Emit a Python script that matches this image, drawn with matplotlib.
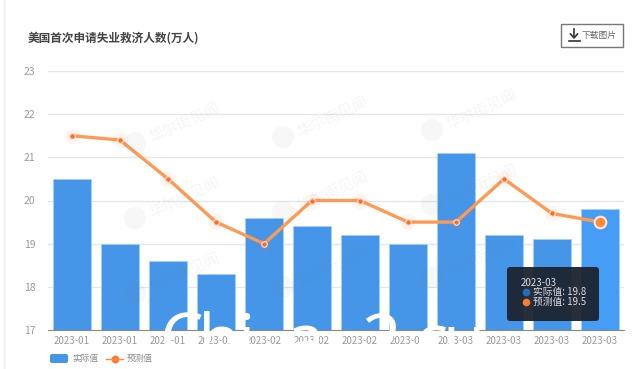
import matplotlib
matplotlib.use('Agg')
import matplotlib.pyplot as plt
from matplotlib.patches import FancyBboxPatch, Rectangle, Circle
import numpy as np

plt.rcParams['font.family'] = ['Noto Sans CJK SC', 'DejaVu Sans']

months = ['2023-01', '2023-01', '2023-01', '2023-01', '2023-02', '2023-02',
          '2023-02', '2023-02', '2023-03', '2023-03', '2023-03', '2023-03']
actual = [20.5, 19.0, 18.6, 18.3, 19.6, 19.4, 19.2, 19.0, 21.1, 19.2, 19.1, 19.8]
forecast = [21.5, 21.4, 20.5, 19.5, 19.0, 20.0, 20.0, 19.5, 19.5, 20.5, 19.7, 19.5]
yticks = [17, 18, 19, 20, 21, 22, 23]

W, H = 640, 369
fig = plt.figure(figsize=(W / 100, H / 100), dpi=100)
ax = fig.add_axes([48 / W, 1 - 330 / H, 576 / W, 259 / H])

x = np.arange(len(months))
bar_colors = ['#4596e8'] * 11 + ['#459df5']
ax.bar(x, actual, 0.8, color=bar_colors, edgecolor='#a9d0f5', linewidth=0.5, zorder=2)
ax.plot(x, forecast, color='#ff9a54', lw=2.4, zorder=3)
ax.scatter(x, forecast, s=130, color='#ff7a30', alpha=0.08, linewidths=0, zorder=3)
ax.scatter(x[:-1], forecast[:-1], s=16, color='#ff6b2b', edgecolor='#ffe3d3', linewidth=0.8, zorder=4)
ax.scatter(x[-1:], forecast[-1:], s=70, color='#ff8a35', edgecolor='#ffe9da', linewidth=1.5, zorder=4)

ax.set_xlim(-0.5, 11.5)
ax.set_ylim(17, 23)
ax.set_yticks(yticks)
ax.set_xticks(x)
ax.set_xticklabels(months)
ax.tick_params(axis='y', length=0, labelsize=7.5, labelcolor='#999999', pad=9)
ax.tick_params(axis='x', length=0, labelsize=7, labelcolor='#999999', pad=4)
ax.grid(axis='y', color='#e6e6e6', lw=1, zorder=1)
ax.set_axisbelow(True)
for s in ['top', 'right', 'left']:
    ax.spines[s].set_visible(False)
ax.spines['bottom'].set_color('#888888')
ax.spines['bottom'].set_zorder(5)

# everything below is placed in pixels of the picture
over = fig.add_axes([0, 0, 1, 1], zorder=10)
over.set_xlim(0, W)
over.set_ylim(H, 0)
over.axis('off')

over.plot([3.5, 3.5], [0, H], color='#eeeeee', lw=1)
over.text(28, 38, '美国首次申请失业救济人数(万人)', fontsize=8.4, weight='bold', color='#444444', va='center')

# download button
over.add_patch(Rectangle((561, 23.5), 62, 23, fc='white', ec='#777777', lw=1))
over.plot([574, 574], [29, 37], color='#333333', lw=1.2)
over.plot([570.5, 574, 577.5], [34, 38, 34], color='#333333', lw=1.2)
over.plot([569, 580], [41, 41], color='#333333', lw=1.2)
over.text(582, 35, '下载图片', fontsize=6.3, color='#666666', va='center')

# legend
over.add_patch(FancyBboxPatch((50, 354), 18, 9, boxstyle='round,pad=0,rounding_size=2', fc='#4596e8', ec='none'))
over.text(72, 358.5, '实际值', fontsize=6.2, color='#888888', va='center')
over.plot([106, 123], [358.5, 358.5], color='#ff8a45', lw=1)
over.scatter([114.5], [358.5], s=32, color='#ff7a30', linewidths=0)
over.text(127, 358.5, '预测值', fontsize=6.2, color='#888888', va='center')

# watermarks
marks = [(135, 143), (135, 218), (135, 293), (283, 137), (283, 212), (283, 287),
         (432, 130), (432, 205), (432, 277)]
for wx, wy in marks:
    over.add_patch(Circle((wx, wy), 11, fc='#777777', ec='none', alpha=0.06))
    over.text(wx + 15, wy - 4, '华尔街见闻', fontsize=11, color='#777777', alpha=0.07, rotation=25,
              va='center', ha='left', rotation_mode='anchor')

# big white letters running off the bottom edge
for letter, lx in [('C', 160), ('h', 198), ('i', 238), ('a', 286), ('2', 362), ('c', 414), ('u', 442)]:
    over.text(lx, 364, letter, fontsize=50, color='white', family=['Open Sans'], va='baseline', ha='left')

# tooltip
over.add_patch(FancyBboxPatch((507, 267), 92, 54, boxstyle='round,pad=0,rounding_size=3', fc='#1c2430', ec='none', alpha=0.95))
over.text(521, 283, '2023-03', fontsize=7, color='#dddddd', va='center')
over.scatter([525.5], [292], s=30, color='#1f6fc4', linewidths=0)
over.text(533, 292, '实际值: 19.8', fontsize=7, color='#dddddd', va='center')
over.scatter([525.5], [302], s=30, color='#ff7a30', linewidths=0)
over.text(533, 302, '预测值: 19.5', fontsize=7, color='#dddddd', va='center')

fig.savefig('out.png', dpi=100)
